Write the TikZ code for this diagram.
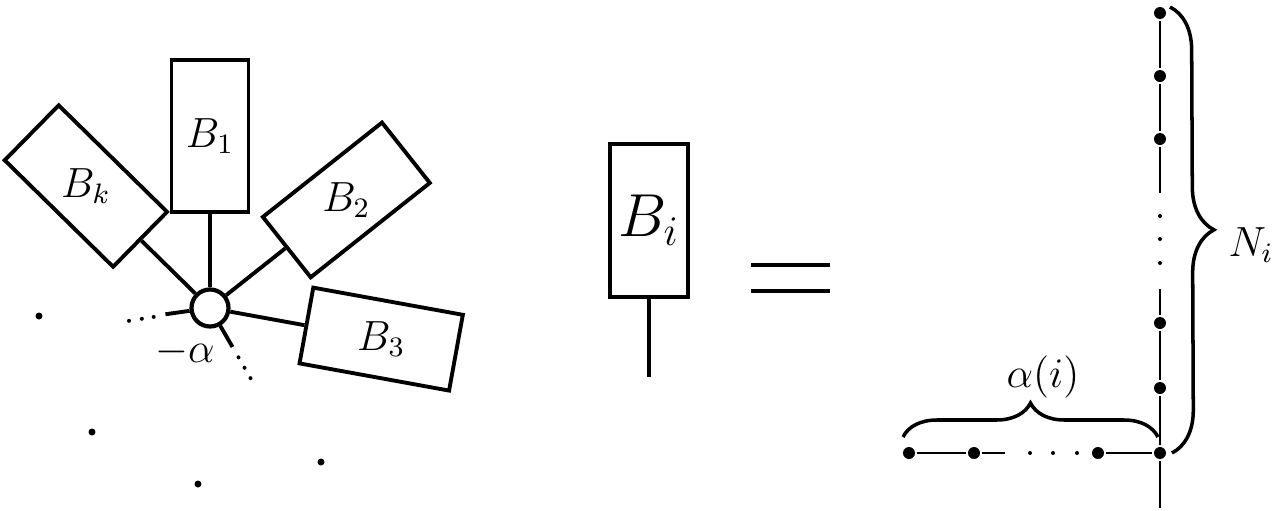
\documentclass[tikz,border=0pt]{standalone}
\usepackage{amsmath,amssymb}
\usepackage{tikz}
\usetikzlibrary{calc,positioning,decorations.pathreplacing}

\begin{document}
\begin{tikzpicture}[
  line width=1.1pt,
  blk/.style={draw,line width=1.1pt,minimum width=1.52cm,minimum height=0.77cm,inner sep=0pt},
  hubnode/.style={draw,line width=1.2pt,circle,minimum size=0.37cm,inner sep=0pt},
  vx/.style={circle,fill,inner sep=0pt,minimum size=0.12cm},
  spot/.style={circle,fill,inner sep=0pt,minimum size=0.07cm},
  ptdot/.style={circle,fill,inner sep=0pt,minimum size=0.04cm},
  chain/.style={line width=0.8pt},
  bracedraw/.style={line width=1pt,decorate,decoration={brace,amplitude=#1}}]
  \useasboundingbox (0,0) rectangle (12.86,5.10);

  % star of blocks round the hub
  \node[hubnode] (hub) at (2.10,2.02) {};
  \node[blk,rotate=90] (b1) at ($(hub)+(90:1.72)$) {};
  \node[blk,rotate=135.5] (bk) at ($(hub)+(135.5:1.74)$) {};
  \node[blk,rotate=38.4] (b2) at ($(hub)+(38.4:1.74)$) {};
  \node[blk,rotate=-10.3] (b3) at ($(hub)+(-10.3:1.74)$) {};
  \node[font=\large] (l1) at (b1.center) {$B_1$};
  \node[font=\large] (lk) at (bk.center) {$B_k$};
  \node[font=\large] (l2) at (b2.center) {$B_2$};
  \node[font=\large] (l3) at (b3.center) {$B_3$};
  \draw (hub) -- (b1.west);
  \draw (hub) -- (bk.west);
  \draw (hub) -- (b2.west);
  \draw (hub) -- (b3.west);

  % short legs, then dots
  \coordinate (sw) at ($(hub)+(188:0.45)$);
  \coordinate (se) at ($(hub)+(-60:0.45)$);
  \draw (hub) -- (sw);
  \draw (hub) -- (se);
  \node[ptdot] (dw1) at ($(hub)+(189:0.57)$) {};
  \node[ptdot] (dw2) at ($(hub)+(189:0.69)$) {};
  \node[ptdot] (dw3) at ($(hub)+(189:0.82)$) {};
  \node[ptdot] (de1) at ($(hub)+(-60:0.57)$) {};
  \node[ptdot] (de2) at ($(hub)+(-60:0.69)$) {};
  \node[ptdot] (de3) at ($(hub)+(-60:0.81)$) {};
  \node[font=\large] (lm) at (1.85,1.58) {$-\alpha$};

  % loose dots
  \node[spot] (s1) at (0.39,1.94) {};
  \node[spot] (s2) at (0.92,0.78) {};
  \node[spot] (s3) at (1.98,0.26) {};
  \node[spot] (s4) at (3.21,0.48) {};

  % single block
  \node[blk,rotate=90,minimum width=1.53cm,minimum height=0.78cm] (bi) at (6.49,2.895) {};
  \node[font=\LARGE] (li) at (bi.center) {$B_i$};
  \coordinate (bistem) at (6.49,1.33);
  \draw[line width=0.9pt] (bi.west) -- (bistem);

  % equals
  \draw[line width=1.4pt] (7.51,2.45) -- (8.30,2.45);
  \draw[line width=1.4pt] (7.51,2.19) -- (8.30,2.19);

  % vertical chain
  \node[vx] (v1) at (11.60,4.97) {};
  \node[vx] (v2) at (11.60,4.34) {};
  \node[vx] (v3) at (11.60,3.71) {};
  \node[vx] (v4) at (11.60,1.87) {};
  \node[vx] (v5) at (11.60,1.22) {};
  \node[vx] (v0) at (11.60,0.57) {};
  \coordinate (vgap1) at (11.60,3.17);
  \coordinate (vgap2) at (11.60,2.21);
  \coordinate (vend) at (11.60,0.02);
  \draw[chain] (v1) -- (v2) -- (v3) -- (vgap1);
  \draw[chain] (vgap2) -- (v4) -- (v5) -- (v0) -- (vend);
  \node[ptdot] (vd1) at (11.60,2.94) {};
  \node[ptdot] (vd2) at (11.60,2.71) {};
  \node[ptdot] (vd3) at (11.60,2.47) {};

  % horizontal chain
  \node[vx] (h1) at (9.09,0.57) {};
  \node[vx] (h2) at (9.74,0.57) {};
  \node[vx] (h3) at (10.98,0.57) {};
  \coordinate (hgap) at (10.05,0.57);
  \draw[chain] (h1) -- (h2) -- (hgap);
  \draw[chain] (h3) -- (v0);
  \node[ptdot] (hd1) at (10.30,0.57) {};
  \node[ptdot] (hd2) at (10.53,0.57) {};
  \node[ptdot] (hd3) at (10.77,0.57) {};

  % braces
  \coordinate (al) at (9.03,0.73);
  \coordinate (ar) at (11.58,0.73);
  \draw[bracedraw=0.34cm] (al) -- (ar);
  \node[font=\large] (la) at (10.43,1.33) {$\alpha(i)$};
  \coordinate (nt) at (11.70,5.03);
  \coordinate (nb) at (11.72,0.57);
  \draw[bracedraw=0.43cm] (nt) -- (nb);
  \node[font=\large] (ln) at (12.51,2.65) {$N_i$};
\end{tikzpicture}
\end{document}
